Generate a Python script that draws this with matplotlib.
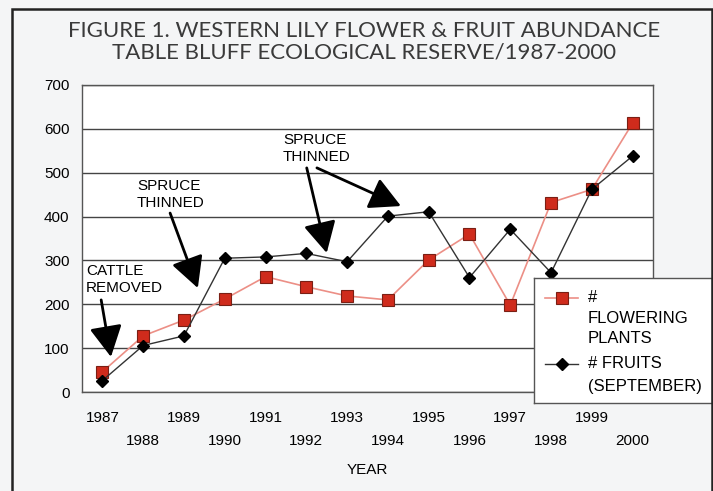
import matplotlib.pyplot as plt
from matplotlib.lines import Line2D
from matplotlib.patches import Rectangle

years = list(range(1987, 2001))
flowering = [46, 128, 164, 212, 263, 240, 219, 210, 301, 360, 198, 432, 462, 613]
fruits = [26, 106, 128, 305, 308, 316, 297, 401, 411, 261, 371, 272, 462, 538]

title = "FIGURE 1. WESTERN LILY FLOWER & FRUIT ABUNDANCE\nTABLE BLUFF ECOLOGICAL RESERVE/1987-2000"
flower_label = ["#", "FLOWERING", "PLANTS"]
fruit_label = ["# FRUITS", "(SEPTEMBER)"]

red = "#cf2b1c"
pink = "#ec8f86"
bg = "#f4f5f6"

plt.rcParams["font.family"] = ["Liberation Sans", "DejaVu Sans"]

fig = plt.figure(figsize=(7.13, 4.91), dpi=100, facecolor=bg)

# outer frame
fig.patches.append(Rectangle((12 / 713, -0.05), 700 / 713, 1 - 9 / 491 + 0.05,
                             transform=fig.transFigure, fill=False,
                             edgecolor="#222222", linewidth=1.8))

fig.text(0.51, 0.915, title, ha="center", va="center", fontsize=16,
         family=["Lato", "DejaVu Sans"], color="#3a3a3a", linespacing=1.15)

ax = fig.add_axes([82 / 713, 1 - 392 / 491, 571 / 713, 307 / 491])
ax.set_facecolor("white")
x = list(range(len(years)))

ax.plot(x, flowering, color=pink, linewidth=1.2, marker="s", markersize=9,
        markerfacecolor=red, markeredgecolor="#7a1f14", markeredgewidth=0.8, zorder=3)
ax.plot(x, fruits, color="#333333", linewidth=1.0, marker="D", markersize=6,
        markerfacecolor="black", markeredgecolor="black", zorder=4)

ax.set_xlim(-0.5, len(years) - 0.5)
ax.set_ylim(0, 700)
ax.set_yticks(range(0, 701, 100))
ax.grid(axis="y", color="#444444", linewidth=1.0)
ax.set_axisbelow(True)
for s in ax.spines.values():
    s.set_color("#555555")
    s.set_linewidth(1.0)

# staggered year labels
ax.set_xticks(x[::2])
ax.set_xticklabels([str(y) for y in years[::2]])
ax.set_xticks(x[1::2], minor=True)
ax.set_xticklabels([str(y) for y in years[1::2]], minor=True)
ax.tick_params(axis="x", which="major", length=0, pad=14, labelsize=11)
ax.tick_params(axis="x", which="minor", length=0, pad=30, labelsize=11)
ax.tick_params(axis="y", length=0, pad=9, labelsize=11)
ax.set_xlabel("YEAR", fontsize=11, labelpad=11)

arrow = dict(arrowstyle="-|>,head_length=0.95,head_width=0.5", color="black",
             linewidth=2, mutation_scale=20, shrinkA=0, shrinkB=0)

ax.text(-0.40, 292, "CATTLE\nREMOVED", fontsize=11, va="top", linespacing=1.25)
ax.annotate("", xy=(0.21, 80), xytext=(-0.03, 210), arrowprops=arrow)

ax.text(0.85, 485, "SPRUCE\nTHINNED", fontsize=11, va="top", linespacing=1.25)
ax.annotate("", xy=(2.34, 237), xytext=(1.66, 408), arrowprops=arrow)

ax.text(4.43, 590, "SPRUCE\nTHINNED", fontsize=11, va="top", linespacing=1.25)
ax.annotate("", xy=(5.50, 317), xytext=(5.01, 511), arrowprops=arrow)
ax.annotate("", xy=(7.32, 424), xytext=(5.26, 511), arrowprops=arrow)

# legend box
leg = fig.add_axes([534 / 713, 1 - 403 / 491, 178 / 713, 125 / 491])
leg.set_xlim(534, 712)
leg.set_ylim(403, 278)
leg.set_xticks([])
leg.set_yticks([])
leg.set_facecolor("white")
for s in leg.spines.values():
    s.set_color("#555555")
    s.set_linewidth(1.0)
leg.add_line(Line2D([545, 578], [298, 298], color=pink, linewidth=1.2))
leg.add_line(Line2D([562], [298], marker="s", markersize=9, markerfacecolor=red,
                    markeredgecolor="#7a1f14", markeredgewidth=0.8))
leg.add_line(Line2D([545, 578], [364, 364], color="#333333", linewidth=1.0))
leg.add_line(Line2D([562], [364], marker="D", markersize=6, color="black"))
for i, t in enumerate(flower_label):
    leg.text(588, 298 + 20.5 * i, t, fontsize=12, va="center")
for i, t in enumerate(fruit_label):
    leg.text(588, 364 + 23 * i, t, fontsize=12, va="center")

fig.savefig("out.png", dpi=100, facecolor=bg)
